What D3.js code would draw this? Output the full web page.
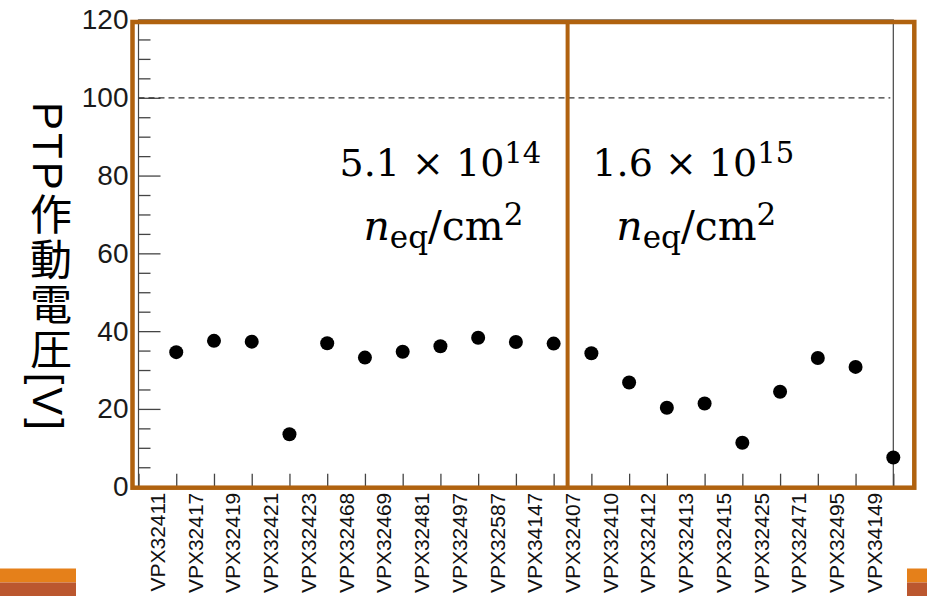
<!DOCTYPE html>
<html>
<head>
<meta charset="utf-8">
<script src="https://cdn.jsdelivr.net/npm/d3@7"></script>
<style>
  body { margin: 0; background: #fff; }
  svg { display: block; }
</style>
</head>
<body>
<div id="chartContent"></div>
<script>
// data
const categories = ["VPX32411", "VPX32417", "VPX32419", "VPX32421", "VPX32423", "VPX32468",
    "VPX32469", "VPX32481", "VPX32497", "VPX32587", "VPX34147",
    "VPX32407", "VPX32410", "VPX32412", "VPX32413", "VPX32415", "VPX32425",
    "VPX32471", "VPX32495", "VPX34149"];
const ptpVoltage = [34.6, 37.5, 37.3, 13.5, 36.9, 33.2, 34.7, 36.1, 38.3, 37.2, 36.8,
    34.3, 26.8, 20.3, 21.4, 11.3, 24.4, 33.1, 30.8, 7.5];
const yTicks = [0, 20, 40, 60, 80, 100, 120];
const refVoltage = 100;
const groupSplit = 11.37;              // boundary between the two fluence groups (bin units)
const fluenceMantissa = ["5.1", "1.6"];
const fluenceExponent = ["14", "15"];
const fluenceCenter = [8, 14.7];       // where each group label sits (bin units)
const yTitle = "PTP作動電圧[V]";

const width = 927, height = 596;
const orange = "#b0620f";

var svg = d3.select("#chartContent")
    .append("svg")
    .attr("width", width)
    .attr("height", height);

var x = d3.scaleLinear().domain([0, categories.length]).range([138.5, 893.3]);
var y = d3.scaleLinear().domain([0, 120]).range([486.7, 20]);

var chartGroup = svg.append("g");

// frame of the histogram
chartGroup.append("rect")
    .attr("x", x(0)).attr("y", y(120))
    .attr("width", x(categories.length) - x(0))
    .attr("height", y(0) - y(120))
    .attr("fill", "none")
    .attr("stroke", "#444")
    .attr("stroke-width", 1.2);

// y axis, major + minor ticks inside the frame
var yMajor = chartGroup.append("g")
    .attr("transform", `translate(${x(0)},0)`)
    .call(d3.axisLeft(y).tickValues(yTicks).tickSizeInner(-22).tickSizeOuter(0).tickPadding(10));
yMajor.select(".domain").remove();
yMajor.selectAll(".tick line").attr("stroke", "#444").attr("stroke-width", 1.3);
yMajor.selectAll(".tick text")
    .attr("font-family", "Liberation Sans, Arial, sans-serif")
    .attr("font-size", 28)
    .attr("fill", "#1a1a1a");

var yMinor = chartGroup.append("g")
    .attr("transform", `translate(${x(0)},0)`)
    .call(d3.axisLeft(y).tickValues(d3.range(0, 121, 5).filter(v => v % 20 !== 0))
        .tickSizeInner(-12).tickSizeOuter(0).tickFormat(""));
yMinor.select(".domain").remove();
yMinor.selectAll(".tick line").attr("stroke", "#444").attr("stroke-width", 1.3);

// x axis ticks at bin edges
var xAxis = chartGroup.append("g")
    .attr("transform", `translate(0,${y(0)})`)
    .call(d3.axisBottom(x).tickValues(d3.range(0, categories.length + 1))
        .tickSizeInner(-13).tickSizeOuter(0).tickFormat(""));
xAxis.select(".domain").remove();
xAxis.selectAll(".tick line").attr("stroke", "#444").attr("stroke-width", 1.3);

// bin labels, vertical
chartGroup.selectAll(".binLabel")
    .data(categories)
    .enter()
    .append("text")
    .classed("binLabel", true)
    .attr("transform", (d, i) => `translate(${x(i + 0.5)},${y(0) + 6}) rotate(-90)`)
    .attr("text-anchor", "end")
    .attr("dominant-baseline", "central")
    .attr("font-family", "Liberation Sans, Arial, sans-serif")
    .attr("font-size", 21)
    .attr("fill", "#111")
    .text(d => d);

// dashed reference line
chartGroup.append("line")
    .attr("x1", x(0)).attr("x2", x(categories.length) - 3)
    .attr("y1", y(refVoltage)).attr("y2", y(refVoltage))
    .attr("stroke", "#333")
    .attr("stroke-width", 1.2)
    .attr("stroke-dasharray", "6 4");

// points
chartGroup.selectAll(".pt")
    .data(ptpVoltage)
    .enter()
    .append("circle")
    .classed("pt", true)
    .attr("cx", (d, i) => x(i + 1))
    .attr("cy", d => y(d))
    .attr("r", 7)
    .attr("fill", "#000");

// orange overlays (slide decorations)
svg.append("rect")
    .attr("x", x(0) - 6).attr("y", y(120) + 2)
    .attr("width", x(categories.length) + 21 - (x(0) - 6))
    .attr("height", y(0) + 1 - (y(120) + 2))
    .attr("fill", "none")
    .attr("stroke", orange)
    .attr("stroke-width", 4.5);

svg.append("line")
    .attr("x1", x(groupSplit)).attr("x2", x(groupSplit))
    .attr("y1", y(120) + 2).attr("y2", y(0) + 1)
    .attr("stroke", orange)
    .attr("stroke-width", 4);

// fluence labels
var mathFont = "DejaVu Serif, Liberation Serif, serif";
fluenceMantissa.forEach((m, i) => {
    var cx = x(fluenceCenter[i]);
    var t1 = svg.append("text")
        .attr("x", cx).attr("y", y(80))
        .attr("text-anchor", "middle")
        .attr("font-family", mathFont)
        .attr("font-size", 38)
        .attr("fill", "#000");
    t1.append("tspan").text(m + " \u00d7 10");
    t1.append("tspan").attr("dy", -13).attr("font-size", 29).text(fluenceExponent[i]);

    var t2 = svg.append("text")
        .attr("x", cx + 3).attr("y", y(63.4))
        .attr("text-anchor", "middle")
        .attr("font-family", mathFont)
        .attr("font-size", 41)
        .attr("fill", "#000");
    t2.append("tspan").attr("font-style", "italic").text("n");
    t2.append("tspan").attr("dy", 8).attr("font-size", 31).text("eq");
    t2.append("tspan").attr("dy", -8).text("/cm");
    t2.append("tspan").attr("dy", -15).attr("font-size", 31).text("2");
});

// y title, vertical writing: latin turned sideways, kanji upright
svg.append("text")
    .attr("x", 47).attr("y", 102)
    .style("writing-mode", "vertical-rl")
    .style("text-orientation", "mixed")
    .attr("font-family", "Liberation Sans, Noto Sans CJK JP, sans-serif")
    .attr("font-size", 42)
    .attr("letter-spacing", 3)
    .attr("fill", "#000")
    .text(yTitle);

// slide footer bars
[[0, 76], [907, 927]].forEach(b => {
    svg.append("rect").attr("x", b[0]).attr("y", 568.5).attr("width", b[1] - b[0]).attr("height", 14)
        .attr("fill", "#e5801a");
    svg.append("rect").attr("x", b[0]).attr("y", 582.5).attr("width", b[1] - b[0]).attr("height", 14)
        .attr("fill", "#bb572f");
});
</script>
</body>
</html>
